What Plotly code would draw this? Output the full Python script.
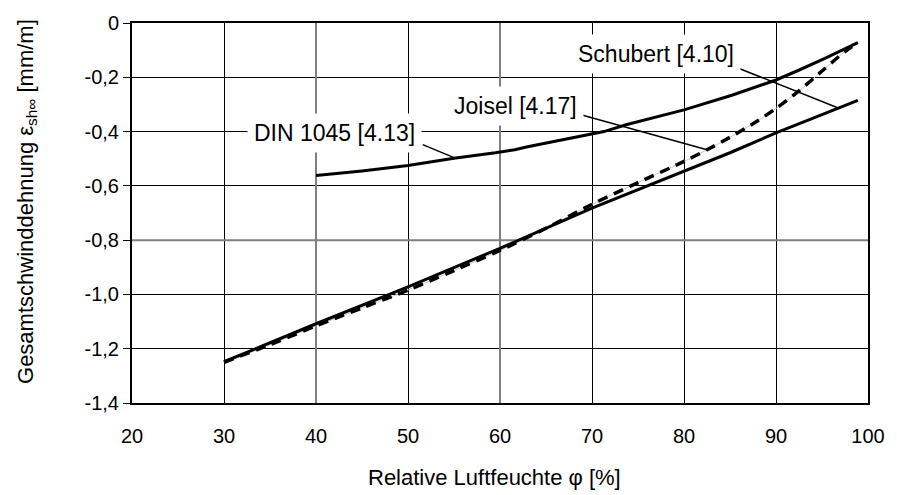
import plotly.graph_objects as go

# ---- data ----
din_x = [40, 45, 50, 55, 59.5, 61.6, 63, 66.6, 70.2, 71.3, 73.7, 80, 85.2, 90, 92.4, 95.2, 98.9]
din_y = [-0.562, -0.545, -0.525, -0.498, -0.478, -0.467, -0.456, -0.432, -0.407, -0.400, -0.375,
         -0.320, -0.266, -0.210, -0.175, -0.132, -0.072]

schubert_x = [30, 40, 50, 60, 70, 75, 80, 85, 90, 95, 98.9]
schubert_y = [-1.248, -1.108, -0.972, -0.830, -0.682, -0.614, -0.545, -0.478, -0.405, -0.338, -0.285]

joisel_x = [30, 35, 40, 45, 50, 55, 60, 65, 70, 75, 80, 82.5, 85, 87.5, 90, 92.5, 95, 97.5, 98.9]
joisel_y = [-1.250, -1.185, -1.116, -1.050, -0.984, -0.912, -0.838, -0.756, -0.668, -0.588, -0.510,
            -0.467, -0.421, -0.371, -0.315, -0.250, -0.177, -0.105, -0.072]

x_ticks = [20, 30, 40, 50, 60, 70, 80, 90, 100]
y_ticks = [0, -0.2, -0.4, -0.6, -0.8, -1.0, -1.2, -1.4]
y_ticktext = ["0", "-0,2", "-0,4", "-0,6", "-0,8", "-1,0", "-1,2", "-1,4"]

labels = ["DIN 1045 [4.13]", "Joisel [4.17]", "Schubert [4.10]"]
label_pos = [(42.0, -0.405), (61.7, -0.306), (77.0, -0.113)]
leaders = [((51.6, -0.448), (55.0, -0.496)),
           ((68.9, -0.339), (82.5, -0.467)),
           ((84.7, -0.150), (96.7, -0.312))]

x_title = "Relative Luftfeuchte φ [%]"
y_title = "Gesamtschwinddehnung ε<sub>sh∞</sub> [mm/m]"

FONT = "Liberation Sans, Arial, sans-serif"

fig = go.Figure()
# thin grey underlay of Joisel curve
fig.add_trace(go.Scatter(x=joisel_x, y=joisel_y, mode="lines",
                         line=dict(color="#c8c8c8", width=1, shape="spline", smoothing=0.8),
                         hoverinfo="skip", showlegend=False))
fig.add_trace(go.Scatter(x=din_x, y=din_y, mode="lines", name="DIN 1045",
                         line=dict(color="black", width=3), showlegend=False))
fig.add_trace(go.Scatter(x=schubert_x, y=schubert_y, mode="lines", name="Schubert",
                         line=dict(color="black", width=3), showlegend=False))
fig.add_trace(go.Scatter(x=joisel_x, y=joisel_y, mode="lines", name="Joisel",
                         line=dict(color="black", width=3.5, dash="10px,7px",
                                   shape="spline", smoothing=0.8), showlegend=False))

# grey emphasised grid lines (as in original)
for gx in [40, 60]:
    fig.add_shape(type="line", x0=gx, x1=gx, y0=-1.4, y1=0, xref="x", yref="y",
                  line=dict(color="#808080", width=2), layer="between")
fig.add_shape(type="line", x0=20, x1=100, y0=-0.8, y1=-0.8, xref="x", yref="y",
              line=dict(color="#808080", width=2), layer="between")

for (p0, p1) in leaders:
    fig.add_shape(type="line", x0=p0[0], y0=p0[1], x1=p1[0], y1=p1[1], xref="x", yref="y",
                  line=dict(color="black", width=1.5), layer="above")

for txt, (lx, ly) in zip(labels, label_pos):
    fig.add_annotation(x=lx, y=ly, xref="x", yref="y", text=txt, showarrow=False,
                       font=dict(family=FONT, size=23, color="black"),
                       bgcolor="white", borderpad=6)

fig.add_annotation(x=0.492, y=-0.195, xref="paper", yref="paper", text=x_title, showarrow=False,
                   font=dict(family=FONT, size=22, color="black"), xanchor="center", yanchor="middle")
fig.add_annotation(x=-0.1435, y=0.53, xref="paper", yref="paper", text=y_title, showarrow=False,
                   textangle=-90, font=dict(family=FONT, size=22, color="black"),
                   xanchor="center", yanchor="middle")

fig.update_xaxes(range=[20, 100], tickvals=x_ticks, ticks="", showgrid=True, gridcolor="black",
                 gridwidth=1, showline=True, linecolor="black", linewidth=2, mirror=True,
                 zeroline=False, ticklabelstandoff=14,
                 tickfont=dict(family=FONT, size=20, color="black"))
fig.update_yaxes(range=[-1.4, 0], tickvals=y_ticks, ticktext=y_ticktext, ticks="outside",
                 ticklen=7, tickcolor="black", tickwidth=1, showgrid=True, gridcolor="black",
                 gridwidth=1, showline=True, linecolor="black", linewidth=2, mirror=True,
                 zeroline=False, tickfont=dict(family=FONT, size=20, color="black"))

fig.update_layout(width=897, height=495, margin=dict(l=132, r=19, t=19, b=92),
                  paper_bgcolor="white", plot_bgcolor="white", showlegend=False,
                  font=dict(family=FONT, color="black"))

fig.write_html("out.html")
